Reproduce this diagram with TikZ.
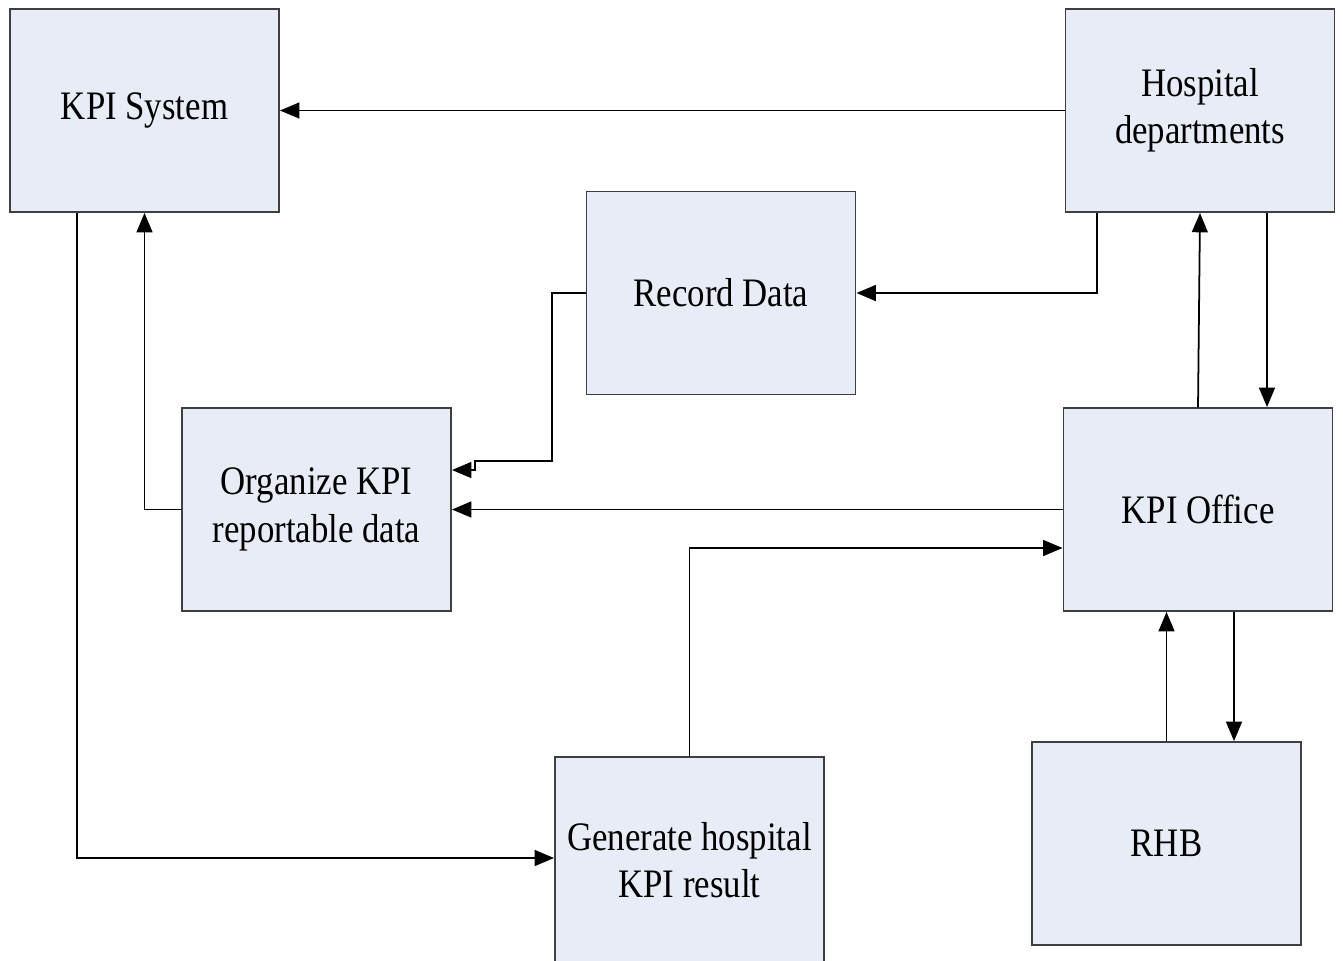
\documentclass[tikz,border=0pt]{standalone}
\usepackage{fontspec}
\newfontfamily\boxfont[FakeStretch=0.86]{Liberation Serif}
\usepackage{xcolor}
\usetikzlibrary{arrows.meta}
\definecolor{boxfill}{HTML}{E7ECF6}
\definecolor{boxline}{HTML}{3F3F3F}

\begin{document}
\begin{tikzpicture}[x=0.01cm, y=-0.01cm,
  block/.style={draw=boxline, fill=boxfill, line width=0.5pt, minimum width=2.69cm, minimum height=2.03cm, align=center, inner sep=0pt, font=\boxfont\fontsize{11.5}{13.5}\selectfont},
  link/.style={black, line width=0.5pt, -{Triangle[length=5.5pt,width=4.5pt]}}]
\useasboundingbox (0,0) rectangle (1343,960);
\clip (0,0) rectangle (1343,960);
\node[block] (kpi) at (144.5,110.5) {KPI System};
\node[block] (hosp) at (1200,110.5) {Hospital\\departments};
\node[block] (rec) at (721,293) {Record Data};
\node[block] (org) at (316.5,509.5) {Organize KPI\\reportable data};
\node[block] (off) at (1198,509.5) {KPI Office};
\node[block, minimum height=2.06cm] (gen) at (689.5,860) {Generate hospital\\KPI result};
\node[block] (rhb) at (1166.5,843.5) {RHB};
\draw[link] (hosp.west) -- (kpi.east);
\draw[link] (hosp.south -| 1097,0) |- (rec.east);
\draw[link] (rec.west) -| (552,461) -- (475,461) -- (475,470) -- (org.east |- 0,470);
\draw[link] (org.west) -| (kpi.south);
\draw[link] (kpi.south -| 77,0) |- (gen.west |- 0,858);
\draw[link] (off.west) -- (org.east);
\draw[link] (gen.north) |- (off.west |- 0,548);
\draw[link] (off.north) -- (hosp.south);
\draw[link] (hosp.south -| 1267,0) -- (off.north -| 1267,0);
\draw[link] (rhb.north) -- (off.south -| rhb.north);
\draw[link] (off.south -| 1234,0) -- (rhb.north -| 1234,0);
\end{tikzpicture}
\end{document}
